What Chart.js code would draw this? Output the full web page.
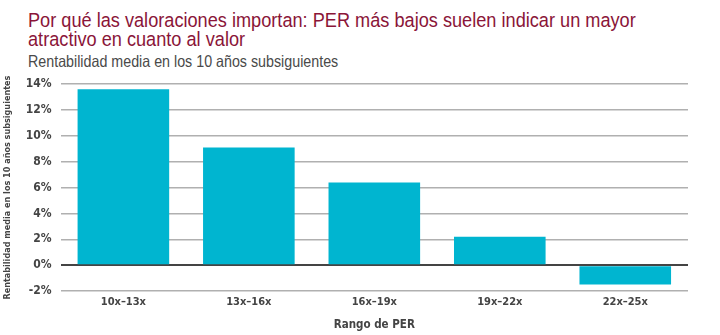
<!DOCTYPE html>
<html>
<head>
<meta charset="utf-8">
<script src="https://cdn.jsdelivr.net/npm/chart.js@4"></script>
<style>
  body { margin: 0; background: #fff; width: 720px; height: 335px; overflow: hidden; }
  .txt { position: absolute; left: 28px; font-family: "Liberation Sans", sans-serif; transform-origin: 0 0; white-space: nowrap; }
  #title { top: 10px; font-size: 20.5px; line-height: 19px; color: #8a1538; transform: scaleX(0.886); }
  #sub { top: 52px; font-size: 16.5px; color: #4a4a4a; transform: scaleX(0.865); }
  #wrap { position: absolute; left: 0; top: 68px; width: 688px; height: 264px; }
</style>
</head>
<body>
<div id="title" class="txt">Por qué las valoraciones importan: PER más bajos suelen indicar un mayor<br>atractivo en cuanto al valor</div>
<div id="sub" class="txt">Rentabilidad media en los 10 años subsiguientes</div>
<div id="wrap"><canvas id="myChart"></canvas></div>
<script>
var categories = ["10x\u201313x", "13x\u201316x", "16x\u201319x", "19x\u201322x", "22x\u201325x"];
var returns = [13.6, 9.1, 6.4, 2.2, -1.5];
var yTicks = [-2, 0, 2, 4, 6, 8, 10, 12, 14];

var axisFont = 'DejaVu Sans Condensed';

const config = {
    type: 'bar',
    data: {
        labels: categories,
        datasets: [{
            data: returns,
            backgroundColor: '#00b5d0',
            borderWidth: 0,
            barPercentage: 0.73,
            categoryPercentage: 1
        }]
    },
    options: {
        responsive: true,
        maintainAspectRatio: false,
        animation: false,
        layout: { padding: { top: 4, right: 0, bottom: 0, left: 2 } },
        plugins: { legend: { display: false }, tooltip: { enabled: false } },
        scales: {
            x: {
                grid: { display: false, drawTicks: false },
                border: { display: false },
                ticks: { color: '#444', padding: 5, font: { family: axisFont, weight: 'bold', size: 11 } },
                title: { display: true, text: 'Rango de PER', color: '#444', padding: { top: 4, bottom: 0 }, font: { family: axisFont, weight: 'bold', size: 11.5 } }
            },
            y: {
                min: -2,
                max: 14,
                afterBuildTicks: function(axis) { axis.ticks = yTicks.map(function(v) { return { value: v }; }); },
                grid: {
                    drawTicks: false,
                    color: function(ctx) { return ctx.tick && ctx.tick.value === 0 ? '#444' : '#b0b0b0'; },
                    lineWidth: function(ctx) { return ctx.tick && ctx.tick.value === 0 ? 2 : 1.5; }
                },
                border: { display: false },
                ticks: {
                    color: '#444', padding: 9,
                    font: { family: axisFont, weight: 'bold', size: 12 },
                    callback: function(v) { return v + '%'; }
                },
                title: { display: true, text: 'Rentabilidad media en los 10 años subsiguientes', color: '#444', padding: { top: 0, bottom: 4 }, font: { family: axisFont, weight: 'bold', size: 9 } }
            }
        }
    }
};

new Chart(document.getElementById('myChart').getContext('2d'), config);
</script>
</body>
</html>
